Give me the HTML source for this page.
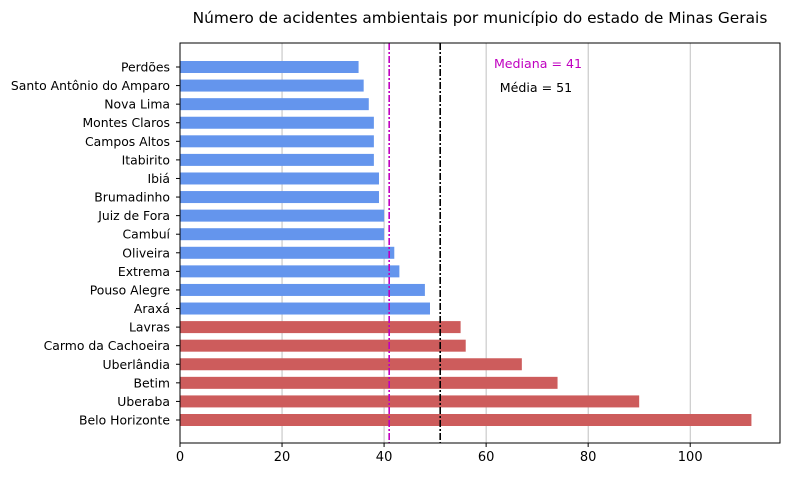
<!DOCTYPE html>
<html><head><meta charset="utf-8"><style>
body{margin:0;background:#fff;}
svg{font-family:"DejaVu Sans","Liberation Sans",sans-serif;}
</style></head><body>
<svg id="chart" width="790" height="477"></svg>
<script>
const categories=["Perdões","Santo Antônio do Amparo","Nova Lima","Montes Claros","Campos Altos","Itabirito","Ibiá","Brumadinho","Juiz de Fora","Cambuí","Oliveira","Extrema","Pouso Alegre","Araxá","Lavras","Carmo da Cachoeira","Uberlândia","Betim","Uberaba","Belo Horizonte"];
const values=[35,36,37,38,38,38,39,39,40,40,42,43,48,49,55,56,67,74,90,112];
const xTicks=[0,20,40,60,80,100];
const median=41;
const mean=51;
const NS="http://www.w3.org/2000/svg";
const svg=document.getElementById('chart');
const L=180,R=780,T=43,B=443,xMax=117.6;
const x=v=>L+v*(R-L)/xMax;
const step=(420-67)/19;
const y=i=>67+i*step;
function mk(tag,attrs,parent){const e=document.createElementNS(NS,tag);for(const k in attrs)e.setAttribute(k,attrs[k]);(parent||svg).appendChild(e);return e;}
xTicks.forEach(t=>{const g=mk('line',{x1:x(t),x2:x(t),y1:T,y2:B,stroke:'#b0b0b0','stroke-width':0.8});

});
values.forEach((v,i)=>{const b=mk('rect',{x:x(0),y:y(i)-6,width:x(v)-x(0),height:12,fill:v>=mean?'#CD5C5C':'#6495ED'});


const t=mk('text',{x:L-10,y:y(i)+4.5,'text-anchor':'end','font-size':12.4,fill:'#000'});t.textContent=categories[i];


mk('line',{x1:L-4,x2:L,y1:y(i),y2:y(i),stroke:'#000'});});
const ml=mk('line',{x1:x(median),x2:x(median),y1:T,y2:B,stroke:'#c000c0','stroke-width':1.6,'stroke-dasharray':'7,2,2,2'});


const al=mk('line',{x1:x(mean),x2:x(mean),y1:T,y2:B,stroke:'#000','stroke-width':1.6,'stroke-dasharray':'7,2,2,2'});


const f=mk('rect',{x:L,y:T,width:R-L,height:B-T,fill:'none',stroke:'#000','stroke-width':1});


xTicks.forEach(t=>{mk('line',{x1:x(t),x2:x(t),y1:B,y2:B+4,stroke:'#000'});
const l=mk('text',{x:x(t),y:B+18,'text-anchor':'middle','font-size':13});l.textContent=t;

});
const a1=mk('text',{x:538,y:68,'text-anchor':'middle','font-size':12.6,fill:'#c000c0'});a1.textContent='Mediana = '+median;


const a2=mk('text',{x:536,y:92,'text-anchor':'middle','font-size':12.6,fill:'#000'});a2.textContent='Média = '+mean;


const ti=mk('text',{x:480,y:23,'text-anchor':'middle','font-size':15.4});ti.textContent='Número de acidentes ambientais por município do estado de Minas Gerais';


</script>
</body></html>
